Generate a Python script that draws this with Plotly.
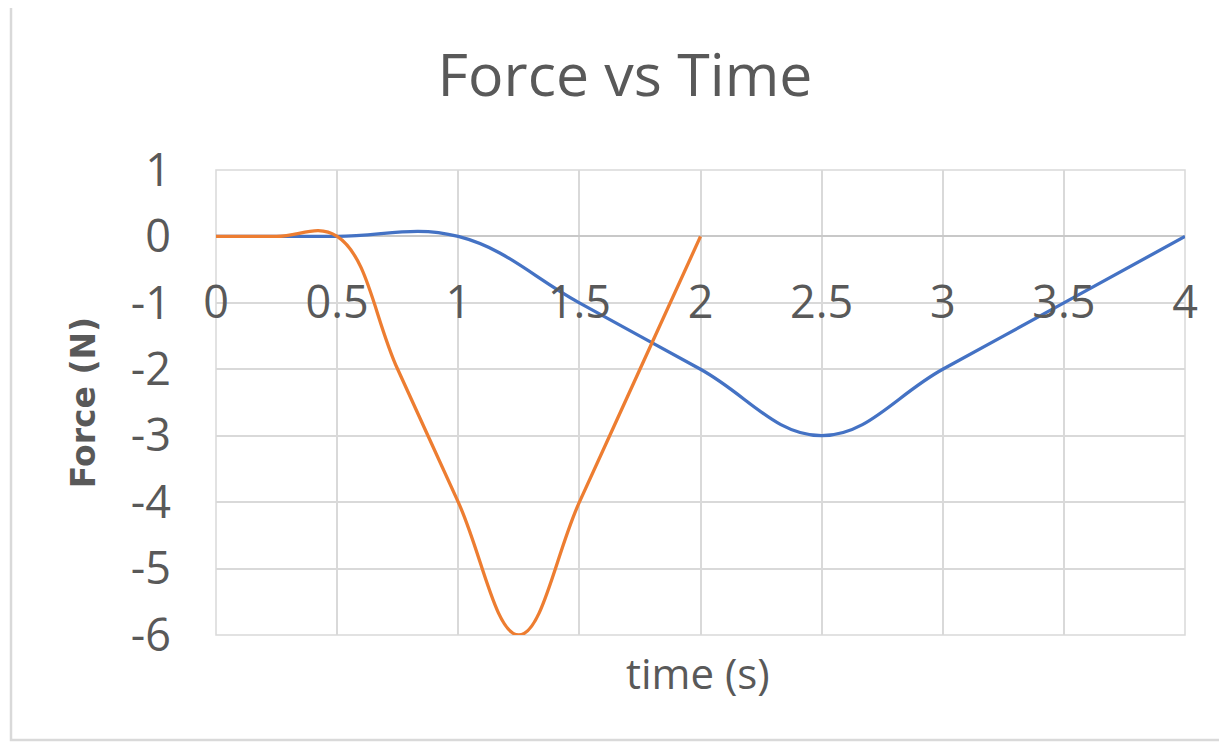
import plotly.graph_objects as go

# Data
time_blue = [0, 0.5, 1, 1.5, 2, 2.5, 3, 3.5, 4]
force_blue = [0, 0, 0, -1, -2, -3, -2, -1, 0]

time_orange = [0, 0.25, 0.5, 0.75, 1, 1.25, 1.5, 1.75, 2]
force_orange = [0, 0, 0, -2, -4, -6, -4, -2, 0]

x_ticks = [0, 0.5, 1, 1.5, 2, 2.5, 3, 3.5, 4]
x_tick_labels = ["0", "0.5", "1", "1.5", "2", "2.5", "3", "3.5", "4"]
y_ticks = [1, 0, -1, -2, -3, -4, -5, -6]
y_tick_labels = ["1", "0", "-1", "-2", "-3", "-4", "-5", "-6"]

FONT = "Open Sans"
TXT = "#595959"
GRID = "#d9d9d9"

fig = go.Figure()
fig.add_trace(go.Scatter(x=time_blue, y=force_blue, mode="lines",
                         line=dict(color="#4472C4", width=3.3, shape="spline", smoothing=1.15),
                         showlegend=False))
fig.add_trace(go.Scatter(x=time_orange, y=force_orange, mode="lines",
                         line=dict(color="#ED7D31", width=3.3, shape="spline", smoothing=1.15),
                         showlegend=False))

# page body has an 8px margin, so offsets are relative to (8, 8)
OFF = 8
W, H = 1227 - OFF, 742 - OFF
L, T = 216 - OFF, 170 - OFF
PR, PB = 1185 - OFF, 635 - OFF
R, B = W - PR, H - PB
pw, ph = PR - L, PB - T

def px(xp):
    return (xp - OFF - L) / pw

def py(yp):
    return (PB - (yp - OFF)) / ph

ymin, ymax = -6, 1
fig.update_layout(
    width=W, height=H,
    margin=dict(l=L, r=R, t=T, b=B, pad=0),
    paper_bgcolor="white", plot_bgcolor="white",
    title=dict(text="Force vs Time", font=dict(family=FONT, size=59, color=TXT),
               x=px(625), xref="paper", xanchor="center",
               y=1 - (75 - OFF) / H, yref="container", yanchor="middle"),
    xaxis=dict(range=[0, 4], tickvals=x_ticks, ticktext=x_tick_labels,
               showgrid=True, gridcolor=GRID, gridwidth=1.5, zeroline=False,
               showline=False, ticks="",
               anchor="free", position=(0 - ymin) / (ymax - ymin),
               ticklabelstandoff=36,
               tickfont=dict(family=FONT, size=45, color=TXT)),
    yaxis=dict(range=[ymin, ymax], tickvals=y_ticks, ticktext=y_tick_labels,
               showgrid=True, gridcolor=GRID, gridwidth=1.5,
               zeroline=True, zerolinecolor="#c8c8c8", zerolinewidth=2,
               showline=False,
               ticks="", ticklabelstandoff=44,
               tickfont=dict(family=FONT, size=45, color=TXT),
               title=dict(text="Force (N)", standoff=25,
                          font=dict(family="DejaVu Sans", size=33, color=TXT, weight="bold"))),
    annotations=[dict(text="time (s)", xref="paper", yref="paper",
                      x=px(698), y=py(672),
                      xanchor="center", yanchor="middle", showarrow=False,
                      font=dict(family=FONT, size=42, color=TXT))],
    shapes=[
        dict(type="rect", xref="paper", yref="paper",
             x0=px(11), x1=px(1245), y0=py(740), y1=py(5),
             line=dict(color=GRID, width=2.5), fillcolor="rgba(0,0,0,0)",
             layer="below"),
        dict(type="rect", xref="paper", yref="paper",
             x0=0, x1=1, y0=0, y1=1,
             line=dict(color=GRID, width=1.5), fillcolor="rgba(0,0,0,0)",
             layer="below"),
    ],
)

fig.write_html("out.html")
